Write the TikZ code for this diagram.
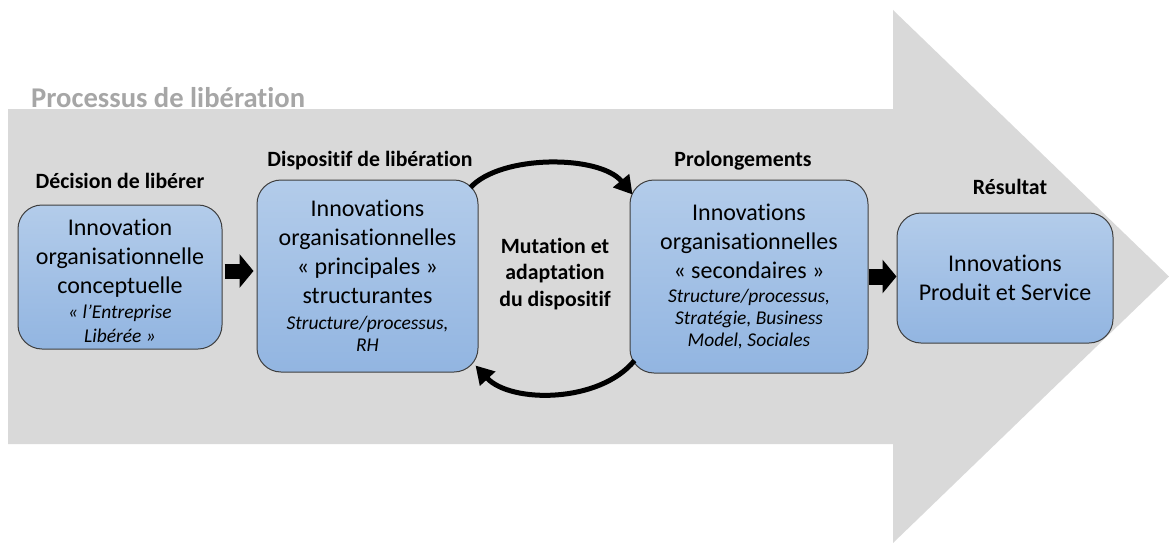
\documentclass[tikz,border=0pt]{standalone}
\usepackage{fontspec}
\setmainfont{Carlito}[Ligatures=NoCommon]
\usetikzlibrary{arrows.meta}

\definecolor{fondgris}{HTML}{D9D9D9}
\definecolor{titregris}{HTML}{A6A6A6}
\definecolor{bleuhaut}{HTML}{B3CCEA}
\definecolor{bleubas}{HTML}{92B5E1}
\definecolor{bord}{HTML}{3F3F3F}

\newcommand{\petit}[1]{{\fontsize{19.5}{23}\selectfont\itshape #1}}

\tikzset{
	innov/.style={draw=bord, line width=1pt, rounded corners=24pt, top color=bleuhaut, bottom color=bleubas, align=center, inner sep=0pt, font=\fontsize{24}{29}\selectfont},
	etape/.style={font=\fontsize{21.8}{26.5}\selectfont\bfseries, align=center, inner sep=0pt},
	boucle/.style={line width=5pt, -{Triangle[length=18pt,width=20pt]}},
	pousse/.style={line width=#1, -{Triangle[length=14pt,width=33pt]}},
}

\begin{document}
\begin{tikzpicture}[x=1pt,y=-1pt]
	\useasboundingbox (0,0) rectangle (1169,543);
	% la grande fleche
	\fill[fondgris] (8,109) -- (893,109) -- (893,10) -- (1169,276.5) -- (893,543) -- (893,444) -- (8,444) -- cycle;
	\node[font=\fontsize{28.6}{34}\selectfont\bfseries, text=titregris, anchor=base west, inner sep=0pt] (titre) at (31,107) {Processus de libération};

	% les etapes
	\node[etape] (t1) at (120,181) {Décision de libérer};
	\node[etape] (t2) at (370,161) {Dispositif de libération};
	\node[etape] (t3) at (743,161) {Prolongements};
	\node[etape] (t4) at (1010,187) {Résultat};

	\node[innov, minimum width=204pt, minimum height=144pt] (b1) at (120,277) {};
	\node[align=center, font=\fontsize{24}{29}\selectfont] (b1txt) at (120,281) {Innovation\\organisationnelle\\conceptuelle\\[-4pt]\petit{«~l’Entreprise}\\[-5pt]\petit{Libérée~»}};
	\node[innov, minimum width=221pt, minimum height=192pt] (b2) at (367.5,276) {Innovations\\organisationnelles\\«~principales~»\\structurantes\\[-3pt]\petit{Structure/processus,}\\[-7pt]\petit{RH}};
	\node[innov, minimum width=238pt, minimum height=193pt] (b3) at (749,276.5) {Innovations\\organisationnelles\\«~secondaires~»\\[-5pt]\petit{Structure/processus,}\\[-7pt]\petit{Stratégie, Business}\\[-7pt]\petit{Model, Sociales}};
	\node[innov, minimum width=216pt, minimum height=130pt] (b4) at (1005,278) {Innovations\\Produit et Service};

	\node[etape] (mut) at (555,274) {Mutation et\\adaptation\\du dispositif};

	% fleches
	\draw[pousse=15pt] ([shift={(2,-6)}]b1.east) -- ([shift={(-3,-5)}]b2.west);
	\draw[pousse=16pt] (b3.east) -- (b3.east -| b4.west);
	\draw[boucle] ([shift={(-8,8)}]b2.north east) .. controls +(30,-33) and +(-33,-40) .. ([shift={(3,15)}]b3.north west);
	\draw[boucle] ([shift={(5,-13)}]b3.south west) .. controls +(-35,43) and +(35,38) .. ([shift={(-3,-7)}]b2.south east);

\end{tikzpicture}
\end{document}
